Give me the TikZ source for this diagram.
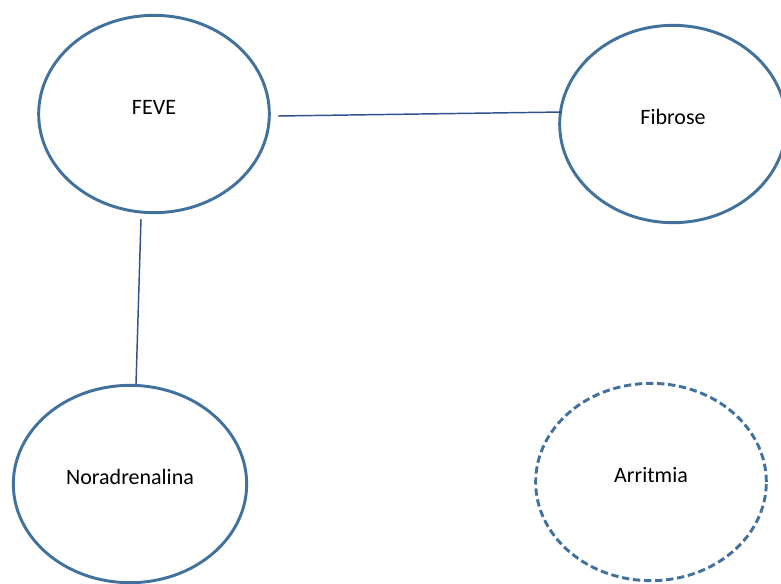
\documentclass[tikz,border=0pt]{standalone}
\usepackage{fontspec}
\setmainfont{Carlito}
\usetikzlibrary{shapes.geometric,calc}

\definecolor{bubbleblue}{RGB}{65,113,156}
\definecolor{linkblue}{RGB}{47,82,143}

\tikzset{every picture/.style={line width=0.75pt}}
\tikzset{
  bubble/.style={ellipse, draw=bubbleblue, line width=2.2pt, inner sep=0pt,
    minimum width=173pt, minimum height=148pt, text depth=10pt,
    font=\fontsize{16.5}{20}\selectfont},
  link/.style={draw=linkblue, line width=1.1pt}
}

\begin{document}
\begin{tikzpicture}[x=0.75pt,y=0.75pt,yscale=-1,xscale=1]
\useasboundingbox (0,0) rectangle (781,583);

%Shape: Ellipse
\node [bubble] (feve) at (154,114) {FEVE};
%Shape: Ellipse
\node [bubble, minimum width=170pt] (fibrose) at (673,124) {Fibrose};
%Shape: Ellipse
\node [bubble, minimum width=175pt] (nora) at (130,484) {Noradrenalina};
%Shape: Ellipse dashed
\node [bubble, dash pattern=on 5.5pt off 2.8pt] (arritmia) at (651,482) {Arritmia};

%Straight Lines
\draw [link] ($(feve.east)+(7,2)$) -- ($(fibrose.west)+(4,-12)$) ;
%Straight Lines
\draw [link] ($(feve.south)+(-13,5)$) -- ($(nora.north)+(6,0)$) ;

\end{tikzpicture}
\end{document}
